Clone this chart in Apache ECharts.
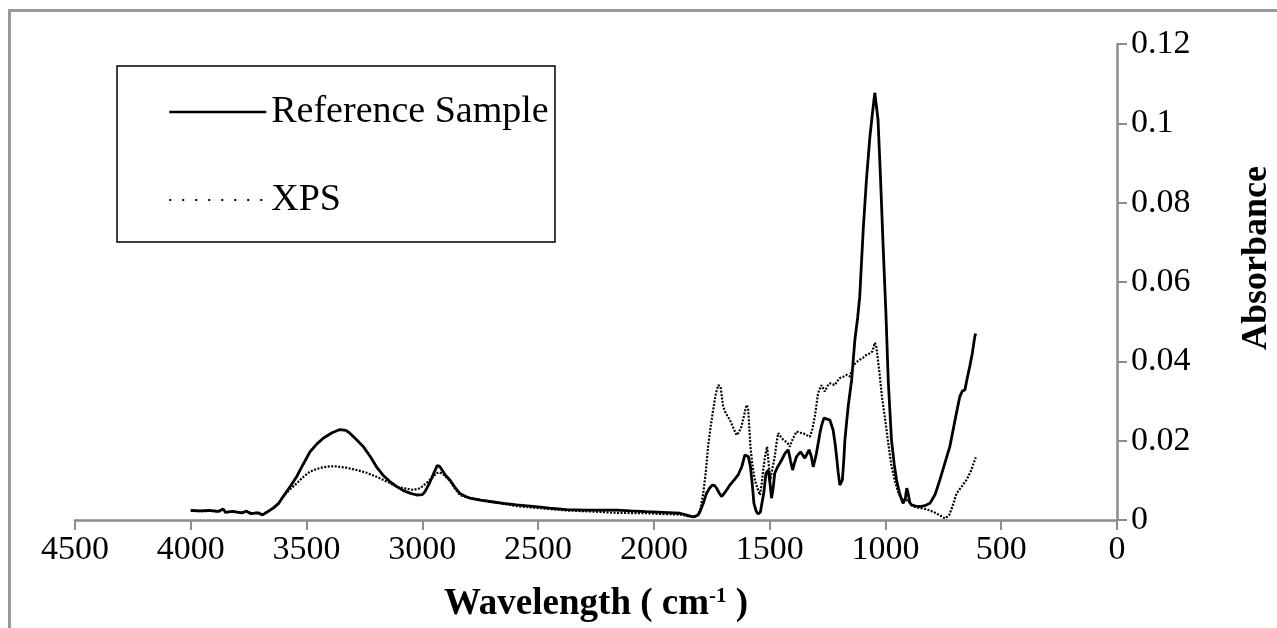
<!DOCTYPE html>
<html>
<head>
<meta charset="utf-8">
<script src="https://cdn.jsdelivr.net/npm/echarts@6/dist/echarts.min.js"></script>
<style>html,body{margin:0;padding:0;background:#fff;overflow:hidden;}#c{width:1277px;height:628px;}</style>
</head>
<body>
<div id="c"></div>
<script>
const seriesNames = ['Reference Sample', 'XPS'];
const xTicks = [4500, 4000, 3500, 3000, 2500, 2000, 1500, 1000, 500, 0];
const yTicks = [0, 0.02, 0.04, 0.06, 0.08, 0.1, 0.12];

const refWave = [4000,3960,3920,3880,3860,3850,3820,3780,3760,3740,3710,3690,3670,3644,3620,3601,3570,3543,3515,3485,3455,3428,3390,3356,3330,3313,3285,3255,3225,3198,3170,3140,3110,3082,3050,3025,3000,2989,2970,2960,2945,2936,2925,2917,2900,2881,2860,2838,2815,2794,2750,2700,2650,2593,2500,2450,2377,2300,2200,2161,2100,2032,1960,1888,1850,1830,1810,1801,1785,1773,1760,1748,1738,1729,1718,1708,1695,1683,1672,1655,1636,1620,1607,1600,1592,1583,1575,1568,1558,1550,1540,1535,1525,1516,1506,1498,1492,1485,1478,1465,1456,1445,1434,1420,1410,1401,1392,1384,1367,1348,1340,1330,1320,1312,1305,1298,1290,1283,1275,1266,1255,1248,1240,1226,1218,1211,1204,1197,1190,1186,1180,1175,1168,1161,1146,1139,1132,1120,1111,1096,1082,1067,1056,1046,1042,1039,1032,1021,1010,998,988,974,962,952,938,924,914,908,903,895,888,870,851,830,808,785,765,745,722,700,679,668,657,646,636,625,614,610];
const refAbs = [0.0024,0.0023,0.0024,0.0022,0.0028,0.0019,0.0022,0.0018,0.0022,0.0016,0.0018,0.0013,0.0020,0.0030,0.0042,0.0059,0.0085,0.0109,0.0140,0.0172,0.0192,0.0206,0.0220,0.0228,0.0226,0.0219,0.0203,0.0185,0.0160,0.0134,0.0113,0.0097,0.0084,0.0074,0.0067,0.0063,0.0064,0.0071,0.0092,0.0105,0.0125,0.0137,0.0135,0.0128,0.0113,0.0101,0.0083,0.0067,0.0060,0.0055,0.0050,0.0046,0.0042,0.0038,0.0033,0.0030,0.0026,0.0025,0.0025,0.0025,0.0023,0.0021,0.0019,0.0017,0.0011,0.0008,0.0012,0.0021,0.0045,0.0067,0.0080,0.0088,0.0087,0.0080,0.0068,0.0059,0.0068,0.0078,0.0088,0.0100,0.0114,0.0135,0.0164,0.0168,0.0160,0.0134,0.0090,0.0042,0.0022,0.0015,0.0020,0.0025,0.0070,0.0118,0.0126,0.0090,0.0055,0.0080,0.0118,0.0135,0.0143,0.0155,0.0168,0.0177,0.0150,0.0126,0.0145,0.0160,0.0172,0.0156,0.0165,0.0177,0.0160,0.0134,0.0150,0.0168,0.0195,0.0219,0.0240,0.0257,0.0255,0.0258,0.0252,0.0227,0.0195,0.0160,0.0120,0.0088,0.0090,0.0101,0.0150,0.0202,0.0245,0.0286,0.0353,0.0404,0.0454,0.0510,0.0563,0.0732,0.0858,0.0967,0.1026,0.1077,0.1080,0.1072,0.1009,0.0858,0.0690,0.0522,0.0353,0.0202,0.0140,0.0101,0.0065,0.0042,0.0055,0.0080,0.0070,0.0045,0.0038,0.0035,0.0034,0.0036,0.0042,0.0065,0.0101,0.0140,0.0185,0.0250,0.0311,0.0325,0.0328,0.0360,0.0387,0.0420,0.0463,0.0470];

const xpsWave = [4000,3960,3920,3880,3860,3850,3820,3780,3760,3740,3710,3690,3670,3644,3620,3601,3570,3543,3515,3485,3455,3428,3400,3370,3330,3284,3240,3198,3150,3111,3070,3039,3010,2982,2960,2939,2925,2910,2880,2860,2838,2800,2700,2593,2500,2377,2250,2161,2032,1960,1888,1850,1816,1800,1787,1776,1766,1755,1744,1732,1722,1712,1701,1690,1672,1655,1643,1632,1622,1610,1600,1593,1583,1575,1564,1550,1542,1535,1528,1520,1511,1504,1497,1488,1478,1470,1463,1452,1441,1434,1424,1413,1400,1384,1370,1355,1340,1326,1315,1305,1298,1291,1276,1262,1250,1240,1229,1219,1208,1197,1180,1168,1154,1137,1125,1111,1095,1082,1068,1056,1046,1040,1036,1024,1015,1003,988,975,960,945,930,915,905,888,870,850,830,808,785,760,743,725,710,693,670,650,632,614,610];
const xpsAbs = [0.0024,0.0022,0.0023,0.0021,0.0026,0.0020,0.0021,0.0019,0.0023,0.0017,0.0019,0.0014,0.0021,0.0031,0.0043,0.0060,0.0078,0.0092,0.0108,0.0122,0.0129,0.0133,0.0135,0.0135,0.0132,0.0126,0.0119,0.0109,0.0096,0.0084,0.0079,0.0076,0.0080,0.0093,0.0105,0.0118,0.0120,0.0115,0.0098,0.0080,0.0063,0.0056,0.0046,0.0035,0.0030,0.0024,0.0021,0.0018,0.0017,0.0015,0.0014,0.0009,0.0008,0.0025,0.0067,0.0120,0.0185,0.0235,0.0278,0.0320,0.0340,0.0336,0.0286,0.0270,0.0252,0.0230,0.0214,0.0222,0.0235,0.0265,0.0290,0.0282,0.0185,0.0140,0.0101,0.0075,0.0063,0.0090,0.0126,0.0160,0.0185,0.0140,0.0101,0.0130,0.0160,0.0195,0.0219,0.0210,0.0202,0.0202,0.0195,0.0185,0.0205,0.0223,0.0220,0.0219,0.0214,0.0210,0.0230,0.0261,0.0290,0.0320,0.0340,0.0324,0.0338,0.0345,0.0342,0.0340,0.0350,0.0358,0.0362,0.0366,0.0362,0.0391,0.0398,0.0404,0.0410,0.0416,0.0420,0.0425,0.0447,0.0440,0.0421,0.0362,0.0310,0.0261,0.0194,0.0140,0.0100,0.0070,0.0052,0.0048,0.0050,0.0038,0.0033,0.0030,0.0028,0.0024,0.0018,0.0010,0.0004,0.0012,0.0035,0.0067,0.0085,0.0101,0.0122,0.0151,0.0158];

const FONT = '"Liberation Serif", "Times New Roman", serif';
const pair = (xs, ys) => xs.map((x, i) => [x, ys[i]]);

const chart = echarts.init(document.getElementById('c'), null, {renderer: 'canvas'});
chart.setOption({
  animation: false,
  backgroundColor: '#ffffff',
  textStyle: {fontFamily: FONT, color: '#000'},
  grid: {left: 75, right: 160, top: 44, bottom: 108, containLabel: false, outerBoundsMode: 'none'},
  graphic: [
    {type: 'line', shape: {x1: 8, y1: 10.5, x2: 1277, y2: 10.5}, style: {stroke: '#9a9a9a', lineWidth: 3}},
    {type: 'line', shape: {x1: 9.5, y1: 9, x2: 9.5, y2: 628}, style: {stroke: '#9a9a9a', lineWidth: 3}},
    {type: 'rect', shape: {x: 117, y: 66, width: 438, height: 176}, style: {fill: 'none', stroke: '#000', lineWidth: 1.5}}
  ],
  legend: {
    orient: 'vertical',
    left: 117, top: 66,
    padding: [25, 10, 20, 51],
    itemWidth: 97, itemHeight: 14, itemGap: 46,
    textStyle: {fontFamily: FONT, fontSize: 38, color: '#000', lineHeight: 42},
    data: [
      {name: seriesNames[0], itemStyle: {opacity: 0}, lineStyle: {width: 2.5}},
      {name: seriesNames[1], itemStyle: {opacity: 0}, lineStyle: {type: [2, 11], width: 2}}
    ]
  },
  xAxis: {
    type: 'value', inverse: true, min: 0, max: 4500, interval: 500,
    name: '{a|Wavelength ( cm}{s|-1}{a| )}',
    nameLocation: 'middle', nameGap: 64,
    nameTextStyle: {
      rich: {
        a: {fontFamily: FONT, fontWeight: 'bold', fontSize: 37, color: '#000', lineHeight: 40},
        s: {fontFamily: FONT, fontWeight: 'bold', fontSize: 21, color: '#000', lineHeight: 40, padding: [0, 0, 15, 0]}
      }
    },
    axisLine: {onZero: false, lineStyle: {color: '#8c8c8c', width: 2.5}},
    axisTick: {inside: false, length: 10, lineStyle: {color: '#8c8c8c', width: 2}},
    axisLabel: {fontFamily: FONT, fontSize: 34, color: '#000', margin: 13,
      formatter: v => xTicks.includes(v) ? String(v) : ''},
    splitLine: {show: false}
  },
  yAxis: {
    type: 'value', position: 'right', min: 0, max: 0.12, interval: 0.02,
    name: 'Absorbance', nameLocation: 'middle', nameRotate: 90, nameGap: 122,
    nameTextStyle: {fontFamily: FONT, fontWeight: 'bold', fontSize: 36, color: '#000', padding: [0, 0, 0, 48]},
    axisLine: {show: true, onZero: false, lineStyle: {color: '#8c8c8c', width: 2.5}},
    axisTick: {show: true, inside: false, length: 10, lineStyle: {color: '#8c8c8c', width: 2}},
    axisLabel: {fontFamily: FONT, fontSize: 34, color: '#000', margin: 14,
      formatter: v => { const t = yTicks.find(y => Math.abs(y - v) < 1e-9); return t === undefined ? '' : String(t); }},
    splitLine: {show: false}
  },
  series: [
    {name: seriesNames[0], type: 'line', data: pair(refWave, refAbs), showSymbol: false, symbol: 'none',
      lineStyle: {color: '#000', width: 2.8, type: 'solid'}, itemStyle: {color: '#000'}, z: 3},
    {name: seriesNames[1], type: 'line', data: pair(xpsWave, xpsAbs), showSymbol: false, symbol: 'none',
      lineStyle: {color: '#000', width: 2.2, type: [2, 1.5]}, itemStyle: {color: '#000'}, z: 2}
  ]
});
</script>
</body>
</html>
